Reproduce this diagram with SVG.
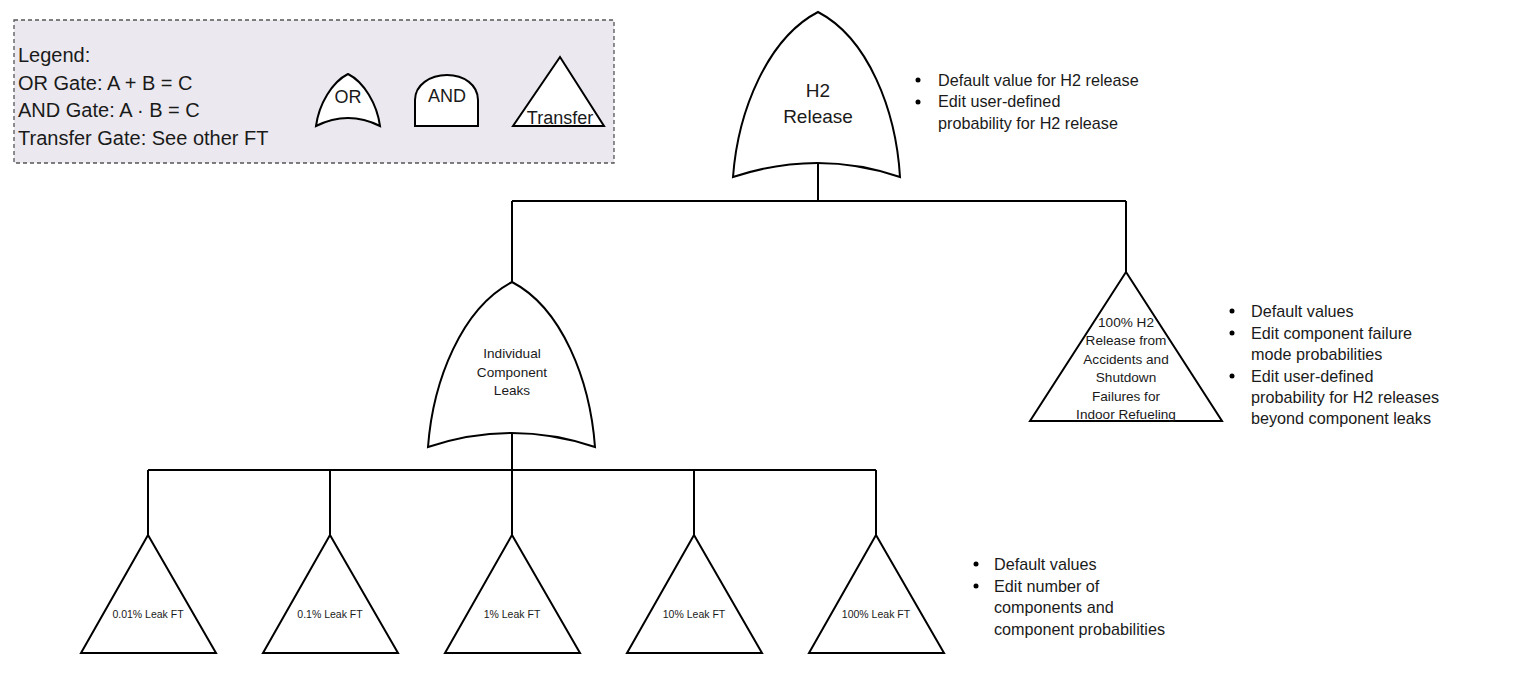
<svg xmlns="http://www.w3.org/2000/svg" width="1513" height="681" viewBox="0 0 1513 681">
<style>
.sh{fill:#fff;stroke:#000;stroke-width:2;stroke-linejoin:miter}
.cn{fill:none;stroke:#000;stroke-width:2}
text{font-family:"Liberation Sans",Arial,sans-serif;fill:#1a1a1a}
.lg{font-size:20px}
.t13{font-size:13.6px;text-anchor:middle}
.t11{font-size:10.5px;text-anchor:middle}
.nt{font-size:16.2px}
.gl{font-size:18px;text-anchor:middle}
</style>
<rect width="1513" height="681" fill="#fff"/>
<g id="legend">
<rect x="14" y="20" width="600" height="143" fill="#ebe9ef" stroke="#555" stroke-width="1.3" stroke-dasharray="4,3"/>
<text class="lg" x="18" y="62">Legend:</text>
<text class="lg" x="18" y="90">OR Gate: A + B = C</text>
<text class="lg" x="18" y="117">AND Gate: A · B = C</text>
<text class="lg" x="18" y="145">Transfer Gate: See other FT</text>
<path class="sh" d="M316,126 C319,104 332,82 348,74 C364,82 377,104 380,126 Q348,110 316,126 Z"/>
<text class="gl" x="348" y="103">OR</text>
<path class="sh" d="M415,126 L415,100 C415,85 430,75 447,75 C464,75 478,85 478,100 L478,126 Z"/>
<text class="gl" x="447" y="102">AND</text>
<path class="sh" d="M560,57 L604,126 L513,126 Z"/>
<text class="gl" x="560" y="124" font-size="19px">Transfer</text>
</g>
<g id="connectors">
<path class="cn" d="M818,163 V201 M512,201 H1126 M512,201 V282 M1126,201 V272"/>
<path class="cn" d="M512,433 V470 M148,470 H876 M148,470 V535 M330,470 V535 M512,470 V535 M694,470 V535 M876,470 V535"/>
</g>
<g id="h2release">
<path class="sh" d="M733,177 C738,110 768,38 818,12 C868,38 896,110 900,177 Q818,149 733,177 Z"/>
<text x="818" y="97" font-size="19" text-anchor="middle">H2</text>
<text x="818" y="123" font-size="19" text-anchor="middle">Release</text>
</g>
<g id="note-h2">
<circle cx="918" cy="80" r="2.5" fill="#000"/>
<circle cx="918" cy="102" r="2.5" fill="#000"/>
<text class="nt" x="938" y="86">Default value for H2 release</text>
<text class="nt" x="938" y="107">Edit user-defined</text>
<text class="nt" x="938" y="129">probability for H2 release</text>
</g>
<g id="icl">
<path class="sh" d="M428,447 C433,380 462,308 512,282 C562,308 590,380 595,447 Q512,419 428,447 Z"/>
<text class="t13" x="512" y="358">Individual</text>
<text class="t13" x="512" y="377">Component</text>
<text class="t13" x="512" y="395">Leaks</text>
</g>
<g id="accidents">
<path class="sh" d="M1126,272 L1222,421 L1030,421 Z"/>
<text class="t13" x="1126" y="327">100% H2</text>
<text class="t13" x="1126" y="345">Release from</text>
<text class="t13" x="1126" y="364">Accidents and</text>
<text class="t13" x="1126" y="382">Shutdown</text>
<text class="t13" x="1126" y="401">Failures for</text>
<text class="t13" x="1126" y="419">Indoor Refueling</text>
</g>
<g id="note-acc">
<circle cx="1232" cy="311" r="2.5" fill="#000"/>
<circle cx="1232" cy="333" r="2.5" fill="#000"/>
<circle cx="1232" cy="376" r="2.5" fill="#000"/>
<text class="nt" x="1251" y="317">Default values</text>
<text class="nt" x="1251" y="339">Edit component failure</text>
<text class="nt" x="1251" y="360">mode probabilities</text>
<text class="nt" x="1251" y="382">Edit user-defined</text>
<text class="nt" x="1251" y="403">probability for H2 releases</text>
<text class="nt" x="1251" y="424">beyond component leaks</text>
</g>
<g id="leak001">
<path class="sh" d="M148,535 L216,653 L81,653 Z"/>
<text class="t11" x="148" y="618">0.01% Leak FT</text>
</g>
<g id="leak01">
<path class="sh" d="M330,535 L398,653 L263,653 Z"/>
<text class="t11" x="330" y="618">0.1% Leak FT</text>
</g>
<g id="leak1">
<path class="sh" d="M512,535 L580,653 L445,653 Z"/>
<text class="t11" x="512" y="618">1% Leak FT</text>
</g>
<g id="leak10">
<path class="sh" d="M694,535 L762,653 L627,653 Z"/>
<text class="t11" x="694" y="618">10% Leak FT</text>
</g>
<g id="leak100">
<path class="sh" d="M876,535 L944,653 L809,653 Z"/>
<text class="t11" x="876" y="618">100% Leak FT</text>
</g>
<g id="note-leaks">
<circle cx="976" cy="564" r="2.5" fill="#000"/>
<circle cx="976" cy="586" r="2.5" fill="#000"/>
<text class="nt" x="994" y="570">Default values</text>
<text class="nt" x="994" y="592">Edit number of</text>
<text class="nt" x="994" y="613">components and</text>
<text class="nt" x="994" y="635">component probabilities</text>
</g>
</svg>
